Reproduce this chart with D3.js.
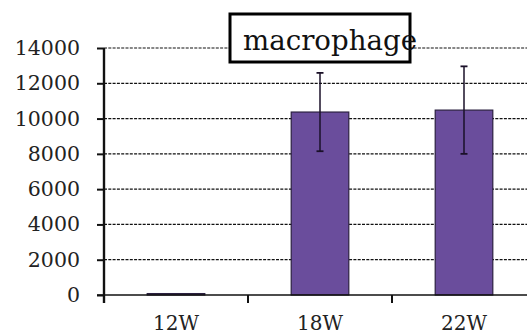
<!DOCTYPE html>
<html><head><meta charset="utf-8">
<script src="https://cdn.jsdelivr.net/npm/d3@7"></script>
<style>html,body{margin:0;padding:0;background:#fff;overflow:hidden}</style>
</head><body>
<svg id="c" width="527" height="335"></svg>
<script>
const categories = ["12W", "18W", "22W"];
const values = [80, 10370, 10480];
const errors = [0, 2220, 2480];
const yTicks = [0, 2000, 4000, 6000, 8000, 10000, 12000, 14000];
const title = "macrophage";

const svg = d3.select("#c");
const font = "'DejaVu Serif', serif";
const x = d3.scaleBand().domain(categories).range([104, 536]).paddingInner(0).paddingOuter(0);
const y = d3.scaleLinear().domain([0, 14000]).range([295, 48]);

// gridlines
svg.append("g").selectAll("line").data(yTicks.filter(d => d > 0)).join("line")
  .attr("x1", 104).attr("x2", 527)
  .attr("y1", d => y(d)).attr("y2", d => y(d))
  .attr("stroke", "#111").attr("stroke-width", 1.2).attr("stroke-dasharray", "3,1.3");

// bars
const bw = x.bandwidth() * 0.4;
svg.append("g").selectAll("rect").data(categories).join("rect")
  .attr("x", d => x(d) + x.bandwidth() / 2 - bw / 2)
  .attr("y", (d, i) => y(values[i]))
  .attr("width", bw)
  .attr("height", (d, i) => y(0) - y(values[i]))
  .attr("fill", "#6a4d9c").attr("stroke", "#2b2040").attr("stroke-width", 1.2);

// error bars
const eg = svg.append("g");
categories.forEach((c, i) => {
  if (!errors[i]) return;
  const cx = x(c) + x.bandwidth() / 2;
  eg.append("line").attr("x1", cx).attr("x2", cx)
    .attr("y1", y(values[i] + errors[i])).attr("y2", y(values[i] - errors[i]))
    .attr("stroke", "#1a1028").attr("stroke-width", 1.5);
  [values[i] + errors[i], values[i] - errors[i]].forEach(v => {
    eg.append("line").attr("x1", cx - 3.5).attr("x2", cx + 3.5)
      .attr("y1", y(v)).attr("y2", y(v))
      .attr("stroke", "#1a1028").attr("stroke-width", 1.8);
  });
});

// y axis
const ya = svg.append("g").attr("transform", "translate(104,0)")
  .call(d3.axisLeft(y).tickValues(yTicks).tickSize(7).tickPadding(17).tickFormat(d3.format("d")));
ya.select(".domain").attr("stroke", "#111").attr("stroke-width", 2.4).attr("d", "M0,48V303");
ya.selectAll(".tick line").attr("stroke", "#111").attr("stroke-width", 2);
ya.selectAll(".tick text").attr("font-family", font).attr("font-size", 20.5).attr("fill", "#222");

// x axis
const xa = svg.append("g").attr("transform", "translate(0,295)")
  .call(d3.axisBottom(x).tickSize(0).tickPadding(0));
xa.select(".domain").attr("stroke", "#111").attr("stroke-width", 1.6).attr("d", "M97,0H527");
xa.selectAll(".tick text").attr("font-family", font).attr("font-size", 20).attr("fill", "#222")
  .attr("dy", 0).attr("y", 35);
svg.append("g").selectAll("line").data(categories.slice(1)).join("line")
  .attr("x1", d => x(d)).attr("x2", d => x(d))
  .attr("y1", 295).attr("y2", 303)
  .attr("stroke", "#111").attr("stroke-width", 2);

// title box
svg.append("rect").attr("x", 230).attr("y", 14).attr("width", 180).attr("height", 48)
  .attr("fill", "#fff").attr("stroke", "#000").attr("stroke-width", 3);
svg.append("text").attr("x", 243).attr("y", 50).text(title)
  .attr("font-family", font).attr("font-size", 27).attr("fill", "#111")
  .attr("textLength", 174).attr("lengthAdjust", "spacingAndGlyphs");
</script>
</body></html>
